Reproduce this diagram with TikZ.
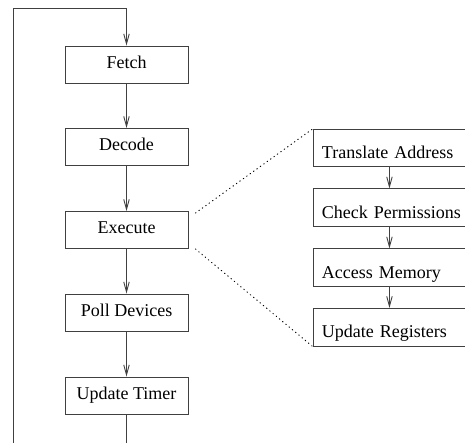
\documentclass[tikz,border=0pt]{standalone}
\usepackage{fontspec}
\setmainfont{Liberation Serif}
\newfontfamily\tmsfont{Liberation Serif}
\usetikzlibrary{arrows.meta}
\begin{document}
\begin{tikzpicture}[x=1pt,y=-1pt,
  every node/.style={font=\tmsfont\fontsize{18}{21}\selectfont},
  line/.style={draw=black!75, line width=0.9pt},
  arr/.style={line, -{Straight Barb[length=10pt,width=5.5pt,line width=0.9pt]}},
  lbox/.style={line, minimum width=123pt, minimum height=37pt, inner sep=0pt,
    text height=12pt, text depth=4pt, align=center},
  rbox/.style={line, anchor=north west, inner xsep=9pt, inner ysep=0pt,
    text width=142pt, text height=29.5pt, text depth=8pt, align=left},
  dots/.style={draw=black, line width=1pt, line cap=round, dash pattern=on 0.6pt off 3.6pt}]
\useasboundingbox (0,0) rectangle (465,443);
% left column
\node[lbox] (fe) at (126.5,64.5) {Fetch};
\node[lbox] (de) at (126.5,147) {Decode};
\node[lbox] (ex) at (126.5,230) {Execute};
\node[lbox] (po) at (126.5,312.5) {Poll Devices};
\node[lbox] (ut) at (126.5,395.5) {Update Timer};
\coordinate (lb) at (13,445);
\coordinate (lt) at (13,8);
\coordinate (bt) at (126.5,445);
\draw[arr] (lb) -- (lt) -| (fe.north);
\draw[arr] (fe) -- (de);
\draw[arr] (de) -- (ex);
\draw[arr] (ex) -- (po);
\draw[arr] (po) -- (ut);
\draw[line] (ut.south) -- (bt);
% right column
\node[rbox] (ta) at (312.5,129) {Translate Address};
\node[rbox] (cp) at (312.5,188.5) {Check Permissions};
\node[rbox] (am) at (312.5,248.5) {Access Memory};
\node[rbox] (ur) at (312.5,308) {Update Registers};
\draw[arr] ([xshift=-3.5pt]ta.south) -- ([xshift=-3.5pt]cp.north);
\draw[arr] ([xshift=-3.5pt]cp.south) -- ([xshift=-3.5pt]am.north);
\draw[arr] ([xshift=-3.5pt]am.south) -- ([xshift=-3.5pt]ur.north);
% dotted zoom lines
\draw[dots] ([xshift=7pt,yshift=-2pt]ex.north east) -- (ta.north west);
\draw[dots] ([xshift=7pt]ex.south east) -- (ur.south west);
\end{tikzpicture}
\end{document}
